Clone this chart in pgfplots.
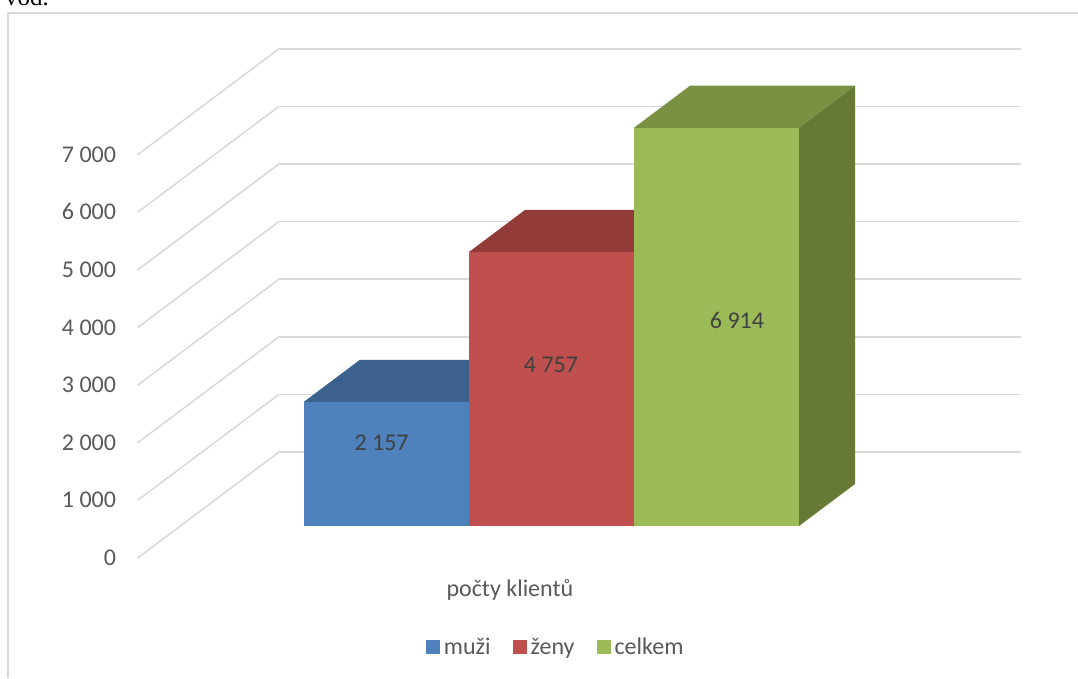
\documentclass[border=0pt]{standalone}
\usepackage{fontspec}
\setmainfont{Carlito}
\newfontfamily\serifpart{Liberation Serif}
\usepackage{pgfplots}
\pgfplotsset{compat=1.18}
\definecolor{gridc}{HTML}{D9D9D9}
\definecolor{txt}{HTML}{595959}
\definecolor{lab}{HTML}{404040}
\definecolor{bluef}{HTML}{4F81BD}
\definecolor{bluet}{HTML}{3C618F}
\definecolor{redf}{HTML}{C0504D}
\definecolor{redt}{HTML}{923B38}
\definecolor{redr}{HTML}{7F3230}
\definecolor{greenf}{HTML}{9BBB59}
\definecolor{greent}{HTML}{7A9143}
\definecolor{greenr}{HTML}{667A36}
\definecolor{bluer}{HTML}{345478}
% one box: from x, to x, value, front, top, side
\newcommand{\boxbar}[6]{%
  \addplot3[fill=#5,draw=none,forget plot] coordinates {(#1,0,#3)(#2,0,#3)(#2,1,#3)(#1,1,#3)};
  \addplot3[fill=#6,draw=none,forget plot] coordinates {(#2,0,0)(#2,1,0)(#2,1,#3)(#2,0,#3)};
  \addplot3[fill=#4,draw=none] coordinates {(#1,0,0)(#2,0,0)(#2,0,#3)(#1,0,#3)};
}
\begin{document}
\begin{tikzpicture}[x=1pt,y=1pt]
\useasboundingbox (-304,-152) rectangle (774,526);
\clip (-304,-152) rectangle (774,526);
\node[anchor=base west,inner sep=0pt] at (-299,520) {\fontsize{25}{29}\selectfont\serifpart vod.};
\draw[gridc,line width=1.6pt] (-296,-152) -- (-296,513) -- (774,513);
\begin{axis}[
  at={(0,0)},anchor=origin,
  x={(165pt,0pt)},y={(56pt,42pt)},z={(0pt,0.0576pt)},
  xmin=-0.75,xmax=3.75,ymin=-0.762,ymax=1.762,zmin=0,zmax=7000,
  clip=false,
  xtick=\empty,ytick=\empty,ztick={0,1000,...,7000},
  zmajorgrids=true,
  grid style={gridc,line width=1.6pt},
  axis line style={draw=none},
  tick style={draw=none},
  zticklabel pos=left,
  /pgf/number format/assume math mode=true,
  /pgf/number format/1000 sep={\ },
  tick label style={font=\fontsize{24}{28}\selectfont,text=txt,anchor=east,
    text height=15pt,text depth=0pt,xshift=-18pt},
  legend columns=3,
  legend style={at={(axis description cs:0.473,-0.175)},anchor=center,draw=none,fill=none,
    font=\fontsize{24}{28}\selectfont,text=txt,
    /tikz/every even column/.append style={column sep=20pt}},
  legend image code/.code={\fill[#1] (0pt,-7pt) rectangle (14pt,7pt);\path (16pt,0pt);},
  legend entries={muži,ženy,celkem},
]
\boxbar{0}{1}{2157}{bluef}{bluet}{bluer}
\boxbar{1}{2}{4757}{redf}{redt}{redr}
\boxbar{2}{3}{6914}{greenf}{greent}{greenr}
\node[font=\fontsize{24}{28}\selectfont,text=lab] at (axis cs:0.47,0,1441) {2 157};
\node[font=\fontsize{24}{28}\selectfont,text=lab] at (axis cs:1.497,0,2795) {4 757};
\node[font=\fontsize{24}{28}\selectfont,text=lab] at (axis cs:2.624,0,3576) {6 914};
\node[font=\fontsize{24}{28}\selectfont,text=txt] at (axis cs:1.248,0,-1111) {počty klientů};
\end{axis}
\end{tikzpicture}
\end{document}
